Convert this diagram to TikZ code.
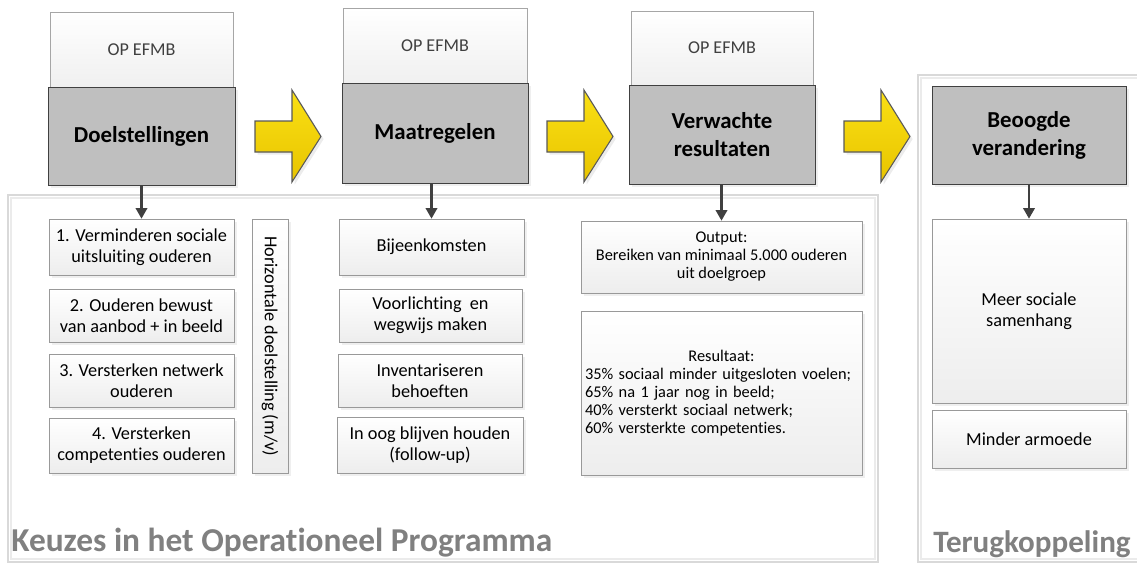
\documentclass[tikz,border=0pt]{standalone}
\usepackage{fontspec}
\setmainfont{Carlito}[Ligatures=NoCommon]
\usepackage{tikz}
\usetikzlibrary{arrows.meta,positioning,shadows}
\definecolor{arrowtop}{RGB}{250,224,20}
\definecolor{arrowbot}{RGB}{232,196,0}
\definecolor{headgray}{RGB}{191,191,191}
\definecolor{framegray}{RGB}{217,217,217}
\definecolor{labelgray}{RGB}{128,128,128}

\tikzset{
  titlebox/.style={draw=black!75, fill=headgray, inner sep=0pt, align=center,
    font=\fontsize{13}{16}\selectfont\bfseries,
    drop shadow={shadow xshift=1.5pt, shadow yshift=-1.5pt, fill=black!12}},
  opbox/.style={draw=black!35, top color=white, bottom color=black!6, inner sep=0pt,
    text=black!75, font=\fontsize{10.3}{12.4}\selectfont},
  itembox/.style={draw=black!40, top color=white, bottom color=black!7, inner sep=0pt,
    align=center, font=\fontsize{10.4}{12}\selectfont,
    drop shadow={shadow xshift=1.5pt, shadow yshift=-1.5pt, fill=black!12}},
  smalltext/.style={font=\fontsize{9.3}{10.3}\selectfont},
  link/.style={draw=black!75, line width=1.2pt, -{Triangle[width=6.5pt,length=6pt]}},
  flowarrow/.style={draw=black!65, line width=0.6pt, top color=arrowtop, bottom color=arrowbot,
    drop shadow={shadow xshift=1.5pt, shadow yshift=-1.5pt, fill=black!15}},
  framebox/.style={draw=framegray, line width=0.6pt},
  grouplabel/.style={text=labelgray, inner sep=0pt}
}

\begin{document}
\begin{tikzpicture}[x=0.02cm, y=-0.02cm]
\useasboundingbox (0,0) rectangle (1137,565);

% group frames
\draw[framebox] (8,195) rectangle (878,562);
\draw[framebox, draw=black!8] (11,198) rectangle (875,559);
\draw[framebox] (918,75) rectangle (1142,562);
\draw[framebox, draw=black!8] (921,78) rectangle (1139,559);

% yellow arrows
\foreach \x in {255,547,844}
  \draw[flowarrow] (\x,121) -- (\x+37,121) -- (\x+37,90) -- (\x+66,136.5)
    -- (\x+37,182) -- (\x+37,152) -- (\x,152) -- cycle;

% column 1
\node[opbox, minimum width=3.66cm, minimum height=1.5cm] (op1) at (141.5,49.5) {OP EFMB};
\node[titlebox, minimum width=3.74cm, minimum height=1.96cm] (doel) at (141.5,136) {Doelstellingen};
\node[itembox, minimum width=3.7cm, minimum height=1.12cm] (d1) at (141.5,247) {1. Verminderen sociale\\uitsluiting ouderen};
\node[itembox, minimum width=3.7cm, minimum height=1.06cm] (d2) at (141.5,315.5) {2. Ouderen bewust\\van aanbod + in beeld};
\node[itembox, minimum width=3.7cm, minimum height=1.06cm] (d3) at (141.5,380.5) {3. Versterken netwerk\\ouderen};
\node[itembox, minimum width=3.7cm, minimum height=1.1cm] (d4) at (141.5,445.5) {4. Versterken\\competenties ouderen};
\node[itembox, minimum width=0.72cm, minimum height=5.08cm] (hor) at (270,346) {\rotatebox{-90}{Horizontale doelstelling (m/v)}};

% column 2
\node[opbox, minimum width=3.68cm, minimum height=1.5cm] (op2) at (435,45.5) {OP EFMB};
\node[titlebox, minimum width=3.72cm, minimum height=2cm] (maat) at (435,133) {Maatregelen};
\node[itembox, minimum width=3.7cm, minimum height=1.12cm] (m1) at (431.5,247) {Bijeenkomsten};
\node[itembox, minimum width=3.66cm, minimum height=1.06cm] (m2) at (430.5,315.5) {Voorlichting\ \ en\\wegwijs maken};
\node[itembox, minimum width=3.68cm, minimum height=1.06cm] (m3) at (430,380.5) {Inventariseren\\behoeften};
\node[itembox, minimum width=3.72cm, minimum height=1.12cm] (m4) at (430,445) {In oog blijven houden\\(follow-up)};

% column 3
\node[opbox, minimum width=3.64cm, minimum height=1.48cm] (op3) at (722,48) {OP EFMB};
\node[titlebox, minimum width=3.72cm, minimum height=1.98cm] (verw) at (722,134.5) {Verwachte\\resultaten};
\node[itembox, smalltext, minimum width=5.62cm, minimum height=1.44cm] (out) at (721.5,257)
  {Output:\\Bereiken van minimaal 5.000 ouderen\\uit doelgroep};
\node[itembox, smalltext, minimum width=5.62cm, minimum height=3.28cm, align=left,
  text width=5.46cm, inner xsep=0.08cm] (res) at (721.5,393)
  {\makebox[\linewidth][c]{Resultaat:}\\35\% sociaal minder uitgesloten voelen;\\65\% na 1 jaar nog in beeld;\\40\% versterkt sociaal netwerk;\\60\% versterkte competenties.};

% column 4
\node[titlebox, minimum width=3.88cm, minimum height=1.96cm] (beo) at (1029,135) {Beoogde\\verandering};
\node[itembox, minimum width=3.88cm, minimum height=3.68cm] (meer) at (1029,311) {Meer sociale\\samenhang};
\node[itembox, minimum width=3.88cm, minimum height=1.16cm] (minder) at (1029,439) {Minder armoede};

% links
\draw[link] (doel.south) -- (d1.north);
\draw[link] (maat.south -| m1.north) -- (m1.north);
\draw[link] (verw.south -| out.north) -- (out.north);
\draw[link] (beo.south) -- (meer.north);

% group labels
\node[grouplabel, font=\fontsize{19}{21}\selectfont\bfseries, anchor=base west] (keuzes) at (11,551) {Keuzes in het Operationeel Programma};
\node[grouplabel, font=\fontsize{17.7}{20}\selectfont\bfseries, anchor=base east] (terug) at (1131,552) {Terugkoppeling};
\end{tikzpicture}
\end{document}
